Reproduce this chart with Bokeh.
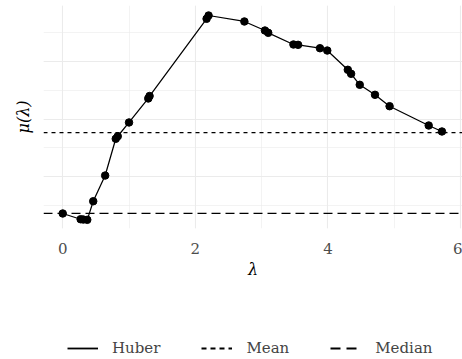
from bokeh.plotting import figure
from bokeh.models import Range1d, SingleIntervalTicker, Legend, LegendItem, Title
from bokeh.layouts import column
from bokeh.embed import file_html
from bokeh.resources import INLINE

lam = [0.00, 0.27, 0.31, 0.37, 0.46, 0.64, 0.80, 0.83, 1.00, 1.29, 1.31,
       2.17, 2.20, 2.74, 3.05, 3.10, 3.48, 3.55, 3.88, 3.99, 4.30, 4.35,
       4.48, 4.71, 4.93, 5.52, 5.72]
mu = [0.357, 0.257, 0.252, 0.247, 0.570, 1.017, 1.656, 1.700, 1.940, 2.357, 2.400,
      3.743, 3.800, 3.696, 3.539, 3.499, 3.296, 3.290, 3.231, 3.191, 2.856, 2.786,
      2.595, 2.421, 2.223, 1.887, 1.783]
mean_val = 1.765
median_val = 0.357
series_labels = ["Huber", "Mean", "Median"]

FONT = "DejaVu Serif"
GRID = "#EBEBEB"
MEAN_DASH = "4 4"
MEDIAN_DASH = "9 5"
LW = 1.25
LEG_LW = 1.8

p = figure(width=462, height=290, output_backend="svg", toolbar_location=None,
           x_range=Range1d(-0.29, 6.03), y_range=Range1d(0.096, 3.974),
           min_border_left=42, min_border_right=0, min_border_top=5,
           min_border_bottom=62)
p.outline_line_color = None
p.background_fill_color = "white"
p.border_fill_color = "white"

p.xaxis.ticker = SingleIntervalTicker(interval=2, num_minor_ticks=2)
yticker = SingleIntervalTicker(interval=1, num_minor_ticks=2)
p.yaxis.ticker = yticker
p.ygrid.ticker = yticker
p.yaxis.visible = False

ax = p.xaxis
ax.axis_line_color = None
ax.major_tick_line_color = None
ax.minor_tick_line_color = None
ax.major_label_text_font = FONT
ax.major_label_text_font_size = "15px"
ax.major_label_text_color = "#4D4D4D"
ax.axis_label_text_font = FONT
ax.axis_label_text_font_size = "16px"
ax.axis_label_text_font_style = "italic"
ax.axis_label_text_color = "black"
ax.major_label_standoff = 8
ax.axis_label = "λ"
ax.axis_label_standoff = 3

ytitle = Title(text="μ(λ)", align="center", text_font=FONT, text_font_size="16px",
               text_font_style="italic", text_color="black", offset=3, standoff=22)
p.add_layout(ytitle, "left")

for g in (p.xgrid, p.ygrid):
    g.grid_line_color = GRID
    g.grid_line_width = 1.1
    g.minor_grid_line_color = GRID
    g.minor_grid_line_width = 0.6

xs = [p.x_range.start, p.x_range.end]
p.line(xs, [mean_val, mean_val], line_color="black", line_width=LW, line_dash=MEAN_DASH)
p.line(xs, [median_val, median_val], line_color="black", line_width=LW, line_dash=MEDIAN_DASH)
p.line(lam, mu, line_color="black", line_width=LW)
p.scatter(lam, mu, size=7.5, color="black")

# legend strip below the plot (its lines lie outside its visible range)
lg = figure(width=462, height=69, output_backend="svg", toolbar_location=None,
            x_range=Range1d(-0.29, 6.03), y_range=Range1d(-3, -2),
            min_border=0)
lg.outline_line_color = None
lg.axis.visible = False
lg.grid.visible = False
lg.border_fill_color = "white"
l_hub = lg.line(lam, mu, line_color="black", line_width=LEG_LW)
l_mean = lg.line(xs, [mean_val, mean_val], line_color="black", line_width=LEG_LW, line_dash="5 4")
l_med = lg.line(xs, [median_val, median_val], line_color="black", line_width=LEG_LW, line_dash="10 6")

legend = Legend(items=[LegendItem(label=series_labels[0], renderers=[l_hub]),
                       LegendItem(label=series_labels[1], renderers=[l_mean]),
                       LegendItem(label=series_labels[2], renderers=[l_med])],
                orientation="horizontal", location=(24, 2),
                glyph_width=31, glyph_height=16, label_standoff=14, spacing=41,
                label_text_font=FONT, label_text_font_size="15px",
                border_line_color=None, background_fill_alpha=0,
                margin=0, padding=0)
lg.add_layout(legend, "center")

layout = column(p, lg, spacing=0)
open("out.html", "w").write(file_html(layout, INLINE))
